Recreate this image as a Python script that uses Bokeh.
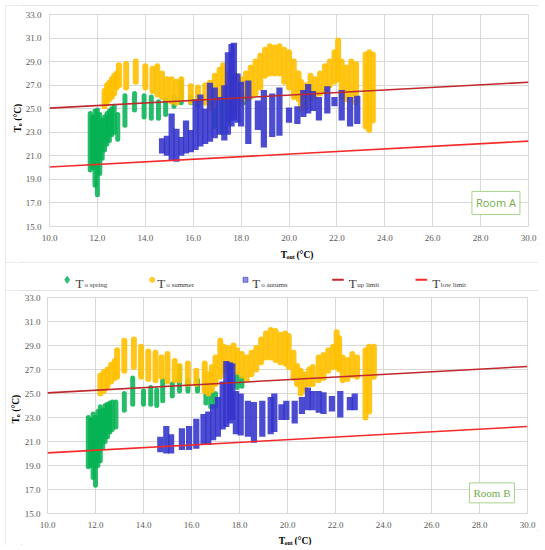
from math import pi
from bokeh.plotting import figure
from bokeh.models import Range1d, FixedTicker, PrintfTickFormatter, ColumnDataSource, Label, Spacer
from bokeh.layouts import column, row
from bokeh.embed import file_html
from bokeh.resources import INLINE
from bokeh.core.properties import value

# ---------------- data ----------------
x_ticks = [10, 12, 14, 16, 18, 20, 22, 24, 26, 28, 30]
y_ticks = [15, 17, 19, 21, 23, 25, 27, 29, 31, 33]

limit_x = [10.0, 30.0]
t_up_limit = [25.05, 27.25]
t_low_limit = [20.05, 22.25]

# Room A -- each entry is one column of hourly points: x, lowest T_o, highest T_o
a_spring_x  = [11.7, 11.8, 11.9, 12.0, 12.1, 12.2, 12.3, 12.4, 12.5, 12.6, 12.7, 12.85, 13.15, 13.55, 13.95, 14.25, 14.55, 14.85, 15.2, 15.5, 15.9, 16.2, 16.9, 17.2, 17.5, 17.9, 18.1]
a_spring_lo = [19.8, 20.0, 18.5, 17.7, 19.5, 20.8, 21.5, 22.0, 22.3, 22.8, 23.0, 22.4, 23.6, 24.9, 24.3, 24.2, 24.2, 24.5, 25.2, 25.5, 25.5, 25.3, 23.5, 23.0, 24.0, 25.5, 25.5]
a_spring_hi = [24.6, 24.3, 24.8, 24.9, 24.5, 24.0, 24.3, 24.6, 24.8, 25.0, 25.2, 24.5, 26.1, 26.3, 26.1, 26.0, 25.6, 25.8, 26.0, 27.3, 26.0, 26.0, 25.5, 26.0, 26.3, 26.5, 26.3]

a_summer_x  = [12.3, 12.4, 12.5, 12.6, 12.7, 12.8, 12.9, 13.2, 13.6, 14.0, 14.3, 14.5, 14.7, 14.9, 15.1, 15.3, 15.5, 15.9, 16.2, 16.5, 16.7, 16.9, 17.1, 17.25, 17.4, 17.6, 17.8, 18.0, 18.2, 18.4, 18.6, 18.8, 19.0, 19.2, 19.4, 19.6, 19.8, 20.0, 20.2, 20.4, 20.5, 20.7, 20.9, 21.1, 21.3, 21.5, 21.7, 21.9, 22.05, 22.2, 22.4, 22.6, 22.8, 23.2, 23.35, 23.5]
a_summer_lo = [25.2, 25.5, 25.8, 26.0, 26.3, 26.8, 27.0, 26.8, 27.3, 26.8, 26.5, 26.2, 26.0, 25.8, 25.6, 25.5, 25.8, 25.6, 25.6, 25.5, 25.0, 25.3, 26.0, 26.3, 25.5, 25.0, 24.8, 25.5, 25.8, 26.0, 26.3, 26.8, 27.8, 28.0, 28.0, 28.0, 27.3, 26.8, 26.0, 25.8, 25.0, 25.2, 25.8, 26.0, 26.3, 26.5, 27.0, 27.3, 27.5, 26.0, 25.8, 26.2, 25.5, 23.5, 23.2, 24.0]
a_summer_hi = [26.5, 27.0, 27.2, 27.5, 27.8, 28.0, 28.7, 28.8, 29.0, 28.6, 28.4, 28.6, 28.0, 27.5, 27.5, 27.3, 27.5, 26.9, 26.8, 27.0, 27.2, 27.8, 28.3, 28.7, 28.0, 27.5, 27.8, 27.5, 28.0, 28.5, 29.0, 29.5, 30.0, 30.3, 30.2, 30.3, 30.0, 29.8, 29.0, 28.0, 27.3, 27.0, 27.8, 27.5, 28.0, 28.6, 29.0, 29.8, 30.8, 29.0, 28.5, 29.0, 28.8, 29.6, 29.8, 29.6]

a_autumn_x  = [14.7, 14.9, 15.1, 15.3, 15.5, 15.7, 15.9, 16.1, 16.3, 16.5, 16.7, 16.9, 17.1, 17.3, 17.45, 17.6, 17.7, 17.85, 18.0, 18.3, 18.7, 18.95, 19.3, 19.6, 20.0, 20.35, 20.6, 20.8, 21.0, 21.25, 21.6, 21.9, 22.2, 22.55, 22.85]
a_autumn_lo = [21.2, 21.0, 20.6, 20.5, 21.0, 21.2, 21.3, 21.5, 21.8, 22.0, 22.2, 22.5, 22.8, 22.3, 22.8, 23.5, 24.0, 23.8, 23.5, 22.0, 23.2, 21.7, 22.6, 22.7, 23.8, 23.7, 24.3, 24.6, 24.8, 24.0, 24.6, 25.2, 24.0, 23.5, 23.7]
a_autumn_hi = [22.5, 22.7, 24.6, 23.3, 22.6, 24.0, 23.2, 25.8, 26.2, 25.0, 27.2, 26.8, 26.0, 27.0, 29.8, 30.5, 30.6, 28.0, 27.3, 27.4, 25.7, 26.6, 26.3, 26.8, 25.1, 25.2, 26.6, 27.1, 26.5, 26.0, 26.9, 26.0, 26.6, 26.0, 26.1]

# Room B
b_spring_x  = [11.7, 11.8, 11.9, 12.0, 12.1, 12.2, 12.3, 12.4, 12.5, 12.6, 12.7, 12.85, 13.2, 13.55, 14.0, 14.3, 14.55, 14.8, 15.2, 15.5, 15.85, 16.25, 16.6, 16.8, 17.0, 17.9, 18.1]
b_spring_lo = [18.9, 19.0, 18.0, 17.35, 19.0, 19.4, 20.5, 21.0, 21.4, 21.8, 22.0, 22.2, 23.6, 24.1, 24.1, 24.1, 24.0, 24.4, 24.8, 25.2, 25.2, 25.2, 24.2, 23.9, 24.0, 25.5, 25.6]
b_spring_hi = [23.0, 22.8, 23.3, 23.0, 23.5, 23.9, 23.6, 24.0, 24.1, 24.2, 24.3, 24.3, 25.0, 26.3, 25.2, 25.5, 25.3, 26.1, 25.8, 27.2, 26.1, 26.1, 25.5, 25.3, 25.0, 26.6, 26.3]

b_summer_x  = [12.2, 12.35, 12.5, 12.65, 12.8, 12.9, 13.2, 13.6, 13.9, 14.2, 14.5, 14.75, 15.0, 15.3, 15.5, 15.85, 16.2, 16.55, 16.7, 16.85, 17.0, 17.2, 17.35, 17.55, 17.75, 17.9, 18.1, 18.3, 18.5, 18.7, 18.9, 19.1, 19.3, 19.5, 19.7, 19.9, 20.05, 20.25, 20.4, 20.55, 20.7, 20.9, 21.05, 21.3, 21.5, 21.7, 21.9, 22.05, 22.15, 22.3, 22.5, 22.7, 22.9, 23.25, 23.4, 23.6]
b_summer_lo = [25.0, 25.2, 25.6, 26.0, 26.3, 26.4, 26.9, 27.2, 26.4, 26.2, 26.1, 26.4, 26.0, 26.1, 26.1, 25.8, 25.8, 25.2, 25.0, 25.3, 25.8, 26.4, 26.8, 27.2, 27.3, 26.8, 26.5, 26.2, 26.6, 27.0, 27.6, 28.0, 28.0, 27.8, 27.6, 27.5, 27.2, 26.3, 25.8, 25.0, 25.3, 25.8, 25.8, 26.1, 26.3, 26.9, 27.2, 27.2, 27.0, 26.1, 26.2, 26.5, 26.4, 23.0, 23.5, 26.4]
b_summer_hi = [26.5, 26.8, 27.0, 27.4, 27.7, 28.6, 29.4, 29.5, 28.9, 28.5, 28.4, 28.0, 28.3, 27.7, 27.3, 27.5, 26.9, 27.5, 26.6, 27.2, 28.0, 29.4, 28.9, 28.8, 29.0, 28.6, 28.3, 28.0, 28.4, 28.8, 29.5, 30.0, 30.3, 30.2, 29.9, 30.0, 29.8, 28.4, 27.3, 26.9, 26.6, 27.0, 27.2, 28.0, 28.2, 28.6, 28.9, 30.1, 29.6, 28.0, 27.8, 28.3, 28.0, 28.6, 28.9, 28.9]

b_autumn_x  = [14.7, 14.95, 15.15, 15.6, 15.9, 16.2, 16.5, 16.7, 16.9, 17.1, 17.3, 17.45, 17.6, 17.7, 17.85, 18.05, 18.35, 18.6, 18.95, 19.3, 19.45, 19.75, 19.95, 20.3, 20.6, 20.85, 21.05, 21.3, 21.5, 21.85, 22.2, 22.6, 22.8]
b_autumn_lo = [20.1, 20.0, 20.0, 20.3, 20.3, 20.4, 20.7, 20.7, 21.1, 21.4, 22.0, 22.2, 22.5, 22.8, 21.6, 21.5, 21.4, 20.9, 21.4, 21.6, 21.8, 22.8, 22.8, 22.5, 23.3, 23.6, 23.6, 23.4, 23.3, 23.5, 23.0, 23.6, 23.6]
b_autumn_hi = [21.4, 22.3, 21.6, 22.1, 22.3, 22.9, 23.3, 23.5, 24.1, 24.7, 26.0, 27.7, 27.6, 27.5, 25.2, 25.0, 24.4, 24.3, 24.4, 24.7, 25.0, 24.1, 24.4, 24.4, 24.7, 25.5, 25.2, 25.2, 25.1, 24.8, 25.2, 24.7, 25.0]

legend_sub = ["o spring", "o summer", "o autumn", "up limit", "low limit"]
room_names = ["Room A", "Room B"]
x_title = ("T", "out", "(°C)")
y_title = ("T", "o", "(°C)")

# ---------------- styling ----------------
SERIF = "Liberation Serif"
GREEN = "#00B050"
YELLOW = "#FFC000"
BLUE = "#3333CC"
UPRED = "#C0282D"
LOWRED = "#F52A2A"
GRID = "#D9D9D9"
BOX = {"outline": "1px solid #D9D9D9", "outline-offset": "-1px"}
LEFT, TOP, RIGHT = 5, 5, 538   # page position of the framed blocks


def blank(width, height, xr, yr):
    return figure(width=width, height=height, x_range=Range1d(*xr), y_range=Range1d(*yr),
                  output_backend="svg", toolbar_location=None, x_axis_type=None,
                  y_axis_type=None, min_border=0, outline_line_color=None,
                  background_fill_color="white", border_fill_color="white")


def add_pieces(f, xs, ys, texts, sizes, angle=0.0):
    for x, y, t, s in zip(xs, ys, texts, sizes):
        f.text(x=[x], y=[y], text=[t], angle=angle, text_font=value(SERIF),
               text_font_style="bold", text_font_size=f"{s}px", text_color="#000000",
               text_align="left", text_baseline="alphabetic")


def make_main(w, h, borders, ystand, sp, su, au, room, room_font):
    bl, br, bt, bb = borders
    p = figure(width=w, height=h, x_range=Range1d(10, 30), y_range=Range1d(15, 33),
               output_backend="svg", toolbar_location=None,
               min_border_left=bl, min_border_right=br, min_border_top=bt, min_border_bottom=bb,
               background_fill_color="white", border_fill_color="white")
    p.outline_line_color = GRID
    p.xaxis.ticker = FixedTicker(ticks=x_ticks)
    p.yaxis.ticker = FixedTicker(ticks=y_ticks)
    for ax in (p.xaxis[0], p.yaxis[0]):
        ax.axis_line_color = None
        ax.major_tick_line_color = None
        ax.minor_tick_line_color = None
        ax.major_tick_out = 0
        ax.major_tick_in = 0
        ax.major_label_text_font = SERIF
        ax.major_label_text_font_size = "9px"
        ax.major_label_text_color = "#595959"
        ax.formatter = PrintfTickFormatter(format="%.1f")
    p.xaxis[0].major_label_standoff = 8
    p.yaxis[0].major_label_standoff = ystand
    p.xgrid.grid_line_color = GRID
    p.ygrid.grid_line_color = GRID

    s_sp = ColumnDataSource(dict(x=sp[0], lo=sp[1], hi=sp[2]))
    s_su = ColumnDataSource(dict(x=su[0], lo=su[1], hi=su[2]))
    s_au = ColumnDataSource(dict(x=au[0], lo=au[1], hi=au[2]))
    p.segment(x0="x", y0="lo", x1="x", y1="hi", source=s_sp, line_color=GREEN,
              line_width=5, line_alpha=0.85, line_cap="round")
    p.segment(x0="x", y0="lo", x1="x", y1="hi", source=s_su, line_color=YELLOW,
              line_width=6, line_alpha=0.9, line_cap="round")
    p.vbar(x="x", bottom="lo", top="hi", width=0.26, source=s_au, fill_color=BLUE,
           fill_alpha=0.88, line_color=None)
    p.line(limit_x, t_up_limit, line_color=UPRED, line_width=1.6)
    p.line(limit_x, t_low_limit, line_color=LOWRED, line_width=1.6)

    p.add_layout(Label(x=room[0], y=room[1], text=room[2], text_align="center",
                       text_baseline="middle", text_font=room_font, text_font_size="11px",
                       text_color="#70AD47", border_line_color="#A9D18E",
                       background_fill_color="white", padding=4))
    return p


def make_block(top_page, h_main, h_xt, w_yt, borders, ystand, sp, su, au, room, room_font,
               xt_x0, xt_base, yt_base, yt_y0):
    w_main = (RIGHT - LEFT) - w_yt
    left_page = LEFT + w_yt
    bottom_page = top_page + h_main + h_xt
    main = make_main(w_main, h_main, borders, ystand, sp, su, au, room, room_font)
    # x-title strip: data coordinates are page pixels (y negated)
    xt = blank(w_main, h_xt, (left_page, RIGHT), (-bottom_page, -(top_page + h_main)))
    add_pieces(xt, [xt_x0, xt_x0 + 6.3, xt_x0 + 17.0], [-xt_base, -xt_base - 2.2, -xt_base],
               list(x_title), [9.5, 6, 9.5])
    # y-title strip
    yt = blank(w_yt, h_main + h_xt, (LEFT, left_page), (-bottom_page, -top_page))
    add_pieces(yt, [yt_base, yt_base + 2.0, yt_base], [-yt_y0, -yt_y0 + 6.3, -yt_y0 + 11.8],
               list(y_title), [9.5, 6, 9.5], angle=pi / 2)
    block = row(yt, column(main, xt, spacing=0), spacing=0)
    block.styles = BOX
    return block


top = make_block(TOP, 239, 18, 17, (25, 10, 9, 18), 8,
                 (a_spring_x, a_spring_lo, a_spring_hi),
                 (a_summer_x, a_summer_lo, a_summer_hi),
                 (a_autumn_x, a_autumn_lo, a_autumn_hi),
                 (28.64, 17.0, room_names[0]), "Open Sans",
                 271.0, 254.5, 17.0, 132.0)

bottom = make_block(290, 240, 15, 16, (23, 11, 7, 17), 7,
                    (b_spring_x, b_spring_lo, b_spring_hi),
                    (b_summer_x, b_summer_lo, b_summer_hi),
                    (b_autumn_x, b_autumn_lo, b_autumn_hi),
                    (28.52, 16.72, room_names[1]), SERIF,
                    270.0, 540.0, 15.5, 423.0)

# ---------------- legend strip (data coordinates are page pixels, y negated) ----------------
lg = blank(RIGHT - LEFT, 28, (LEFT, RIGHT), (-290, -262))
lg.styles = BOX
lg.scatter(x=[66.7], y=[-279.3], marker="diamond", size=7, color=GREEN, alpha=0.8)
lg.scatter(x=[151.7], y=[-279.3], marker="circle", size=5, color=YELLOW, alpha=0.8)
lg.scatter(x=[245.0], y=[-279.3], marker="square", size=5, color=BLUE, alpha=0.55)
lg.segment(x0=[331.7], y0=[-279.3], x1=[343.3], y1=[-279.3], line_color=UPRED, line_width=2)
lg.segment(x0=[415.0], y0=[-279.3], x1=[426.7], y1=[-279.3], line_color=LOWRED, line_width=2)
main_x = [75, 156.7, 251.7, 348.3, 431.7]
sub_x = [84, 165.7, 260.7, 356.7, 440]
lg.text(x=main_x, y=[-282.7] * 5, text=["T"] * 5, text_font=value(SERIF), text_font_size="13px",
        text_color="#404040", text_baseline="alphabetic")
lg.text(x=sub_x, y=[-284.2] * 5, text=legend_sub, text_font=value(SERIF), text_font_size="7px",
        text_color="#404040", text_baseline="alphabetic")

inner = column(top, lg, bottom, spacing=0)
layout = column(Spacer(height=TOP), row(Spacer(width=LEFT), inner, spacing=0), spacing=0)
open("out.html", "w").write(file_html(layout, INLINE))
